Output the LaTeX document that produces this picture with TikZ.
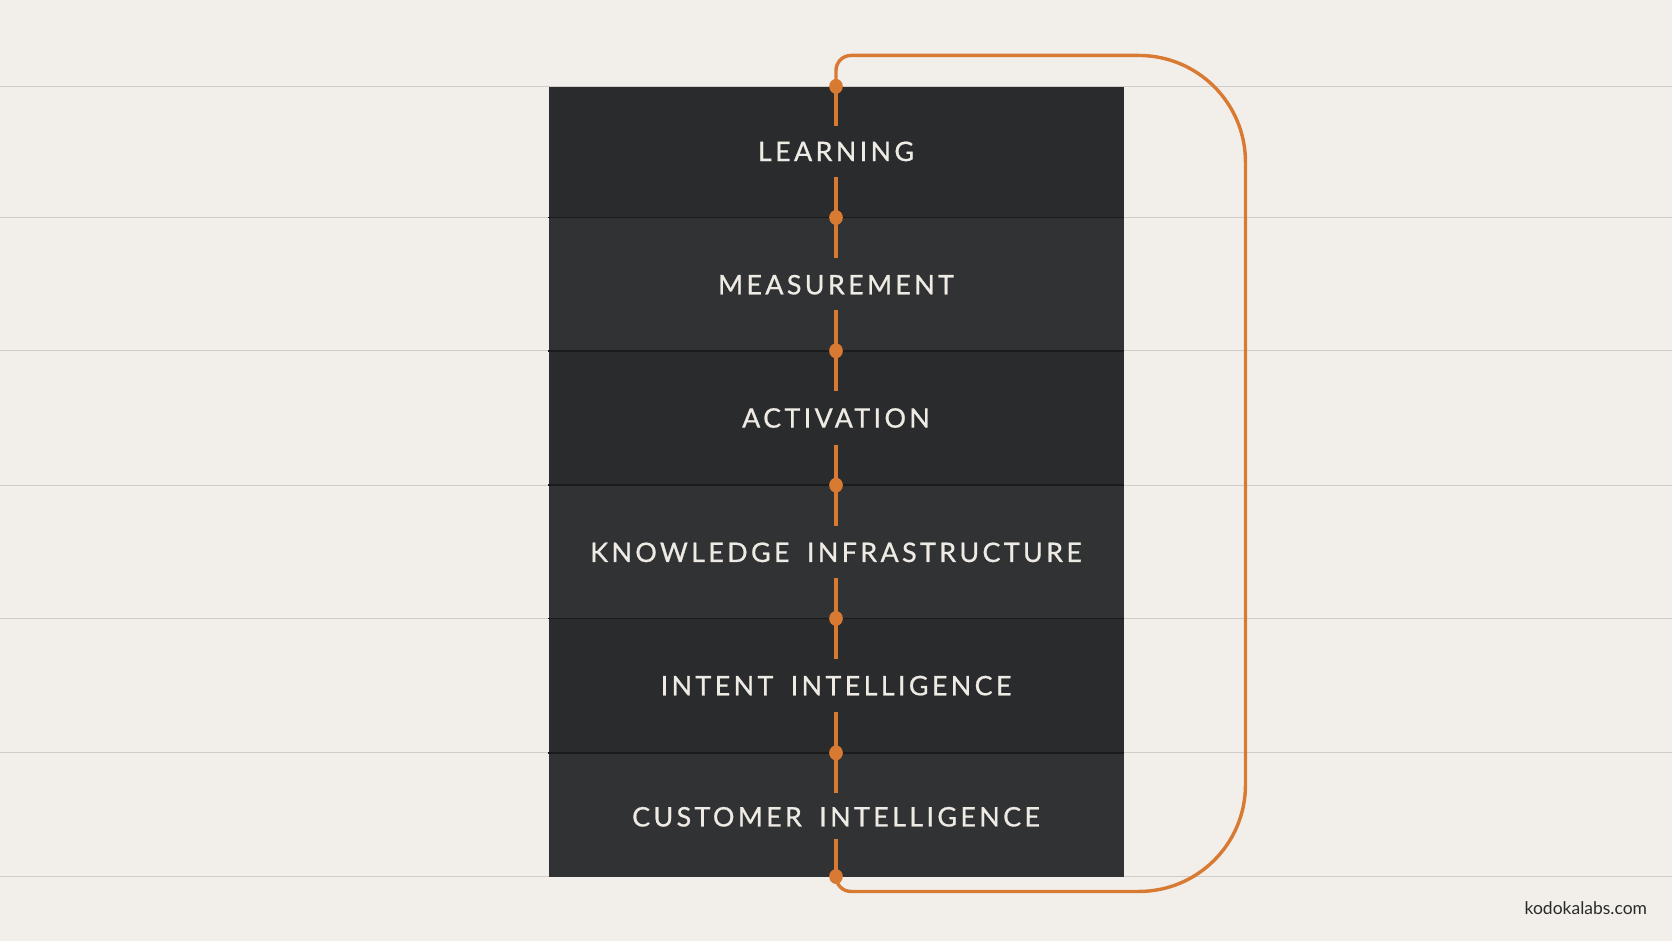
\documentclass[tikz,border=0pt]{standalone}
\usepackage{fontspec}
\setmainfont{Lato}
\newfontfamily\labelfont[LetterSpace=12.5,WordSpace=1.7,FakeBold=0.8]{Lato}
\definecolor{bgc}{HTML}{F2EFEA}
\definecolor{rulec}{HTML}{D0CDC8}
\definecolor{banda}{HTML}{2A2B2D}
\definecolor{bandb}{HTML}{313234}
\definecolor{sepc}{HTML}{1B1B1C}
\definecolor{orangec}{HTML}{D97A33}
\definecolor{textc}{HTML}{EEEBE5}
\definecolor{footc}{HTML}{2A2A2A}
\tikzset{
  band/.style={draw=none, inner sep=0pt, minimum width=270pt, anchor=north west},
  lbl/.style={text=textc, font=\labelfont\fontsize{12.6}{14}\selectfont, inner sep=0pt},
  dotn/.style={ellipse, fill=orangec, draw=none, minimum width=6.4pt, minimum height=7pt, inner sep=0pt},
  seg/.style={draw=orangec, line width=1.5pt},
  loopline/.style={draw=orangec, line width=1.6pt},
  guide/.style={draw=rulec, line width=0.6pt},
}
\usetikzlibrary{shapes.geometric}
\begin{document}
\begin{tikzpicture}[x=0.5pt,y=-0.5pt]
\fill[bgc] (0,0) rectangle (1568,882.5);
\useasboundingbox (0,0) rectangle (1568,882.5);
% guide lines
\foreach \yy in {81,204,329,455,580,706,822}{
  \draw[guide] (0,\yy) -- (1568,\yy);
}
% bands
\node[band, fill=banda, minimum height=61.5pt] (b1) at (514,81) {};
\node[band, fill=bandb, minimum height=62.5pt] (b2) at (514,204) {};
\node[band, fill=banda, minimum height=63pt] (b3) at (514,329) {};
\node[band, fill=bandb, minimum height=62.5pt] (b4) at (514,455) {};
\node[band, fill=banda, minimum height=63pt] (b5) at (514,580) {};
\node[band, fill=bandb, minimum height=58pt] (b6) at (514,706) {};
\foreach \yy in {204,329,455,580,706}{
  \draw[sepc, line width=0.7pt] (514,\yy) -- (1054,\yy);
}
% labels
\node[lbl] (t1) at (784,142) {LEARNING};
\node[lbl] (t2) at (784,267) {MEASUREMENT};
\node[lbl] (t3) at (784,392) {ACTIVATION};
\node[lbl] (t4) at (784,518) {KNOWLEDGE INFRASTRUCTURE};
\node[lbl] (t5) at (784,643) {INTENT INTELLIGENCE};
\node[lbl] (t6) at (784,766) {CUSTOMER INTELLIGENCE};
% loop
\draw[loopline] (784,81) -- (784,66) .. controls (784,58.27) and (790.27,52) .. (798,52)
  -- (1068,52) .. controls (1123.2,52) and (1168,96.8) .. (1168,152)
  -- (1168,736) .. controls (1168,791.2) and (1123.2,836) .. (1068,836)
  -- (798,836) .. controls (790.27,836) and (784,829.73) .. (784,822);
% dots
\node[dotn] (d0) at (784,81) {};
\node[dotn] (d1) at (784,204) {};
\node[dotn] (d2) at (784,329) {};
\node[dotn] (d3) at (784,455) {};
\node[dotn] (d4) at (784,580) {};
\node[dotn] (d5) at (784,706) {};
\node[dotn] (d6) at (784,822) {};
% segments
\draw[seg] (d0.center) -- ++(0,37);
\foreach \d in {d1,d2,d3,d4,d5}{
  \draw[seg] (\d.center) ++(0,-38) -- ++(0,76);
}
\draw[seg] (d6.center) -- ++(0,-35);
% footer
\node[text=footc, font=\fontsize{8.2}{9}\selectfont, anchor=east, inner sep=0pt] (foot) at (1545,852) {kodokalabs.com};
\end{tikzpicture}
\end{document}
